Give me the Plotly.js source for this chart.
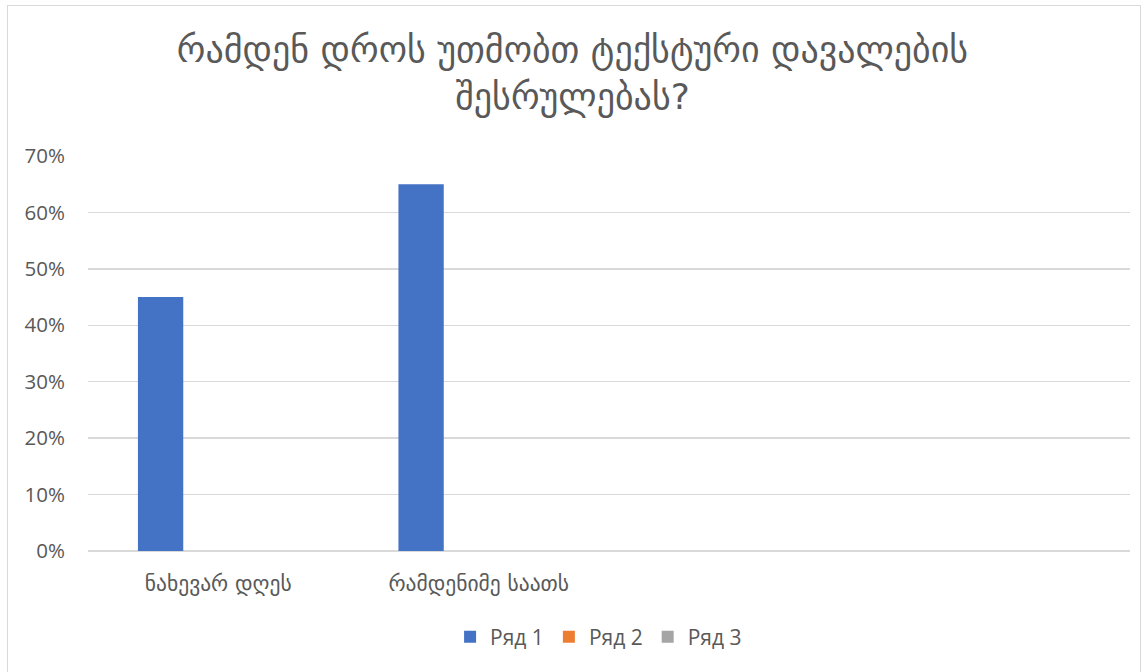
<!DOCTYPE html>
<html>
<head>
<meta charset="utf-8">
<script src="https://cdn.plot.ly/plotly-3.0.1.min.js"></script>
<style>
html,body{margin:0;padding:0;background:#fff;}
#frame{position:absolute;left:7px;top:5px;width:1134px;height:672px;border:1px solid #D9D9D9;box-sizing:border-box;}
#chart{position:absolute;left:0;top:0;width:1145px;height:672px;}
</style>
</head>
<body>
<div id="frame"></div>
<div id="chart"></div>
<script>
var titleLines = ["რამდენ დროს უთმობთ ტექსტური დავალების", "შესრულებას?"];
var categories = ["ნახევარ დღეს", "რამდენიმე საათს", " ", "  "];
var seriesNames = ["Ряд 1", "Ряд 2", "Ряд 3"];
var series1 = [0.45, 0.65, null, null];
var series2 = [null, null, null, null];
var series3 = [null, null, null, null];
var seriesColors = ["#4472C4", "#ED7D31", "#A5A5A5"];
var yTicks = [0, 0.1, 0.2, 0.3, 0.4, 0.5, 0.6, 0.7];

var geo = "'DejaVu Sans', 'Noto Sans', sans-serif";
var lat = "'Open Sans', 'DejaVu Sans', sans-serif";
var txtColor = "#595959";

var allSeries = [series1, series2, series3];
var traces = allSeries.map(function(vals, i){
  return {
    type: "bar",
    x: categories,
    y: vals,
    name: seriesNames[i],
    marker: {color: seriesColors[i]},
    hoverinfo: "skip"
  };
});

var layout = {
  width: 1145, height: 672,
  paper_bgcolor: "rgba(0,0,0,0)",
  plot_bgcolor: "rgba(0,0,0,0)",
  margin: {l: 88, r: 15, t: 156, b: 121},
  barmode: "group",
  bargap: 0.336,
  bargroupgap: 0.214,
  title: {
    text: titleLines.join("<br>"),
    font: {family: geo, size: 36, color: txtColor},
    x: 0.5, xanchor: "center",
    y: 0.908, yanchor: "middle"
  },
  xaxis: {
    type: "category",
    categoryorder: "array",
    categoryarray: categories,
    range: [-0.5, categories.length - 0.5],
    showgrid: false,
    showline: false,
    zeroline: false,
    ticks: "",
    ticklabelstandoff: 17,
    tickfont: {family: geo, size: 21.5, color: txtColor}
  },
  yaxis: {
    range: [0, 0.7],
    tickvals: yTicks,
    tickformat: ".0%",
    showgrid: true,
    gridcolor: "#D9D9D9",
    gridwidth: 1.5,
    zeroline: true,
    zerolinecolor: "#D9D9D9",
    zerolinewidth: 1.5,
    showline: false,
    ticks: "",
    ticklabelstandoff: 22,
    tickfont: {family: lat, size: 20.5, color: txtColor}
  },
  legend: {
    orientation: "h",
    x: 0.49, xanchor: "center",
    y: -0.218, yanchor: "middle",
    font: {family: lat, size: 21, color: txtColor},
    itemwidth: 30,
    tracegroupgap: 0
  },
  showlegend: true
};

Plotly.newPlot("chart", traces, layout, {displayModeBar: false, staticPlot: true});
</script>
</body>
</html>
